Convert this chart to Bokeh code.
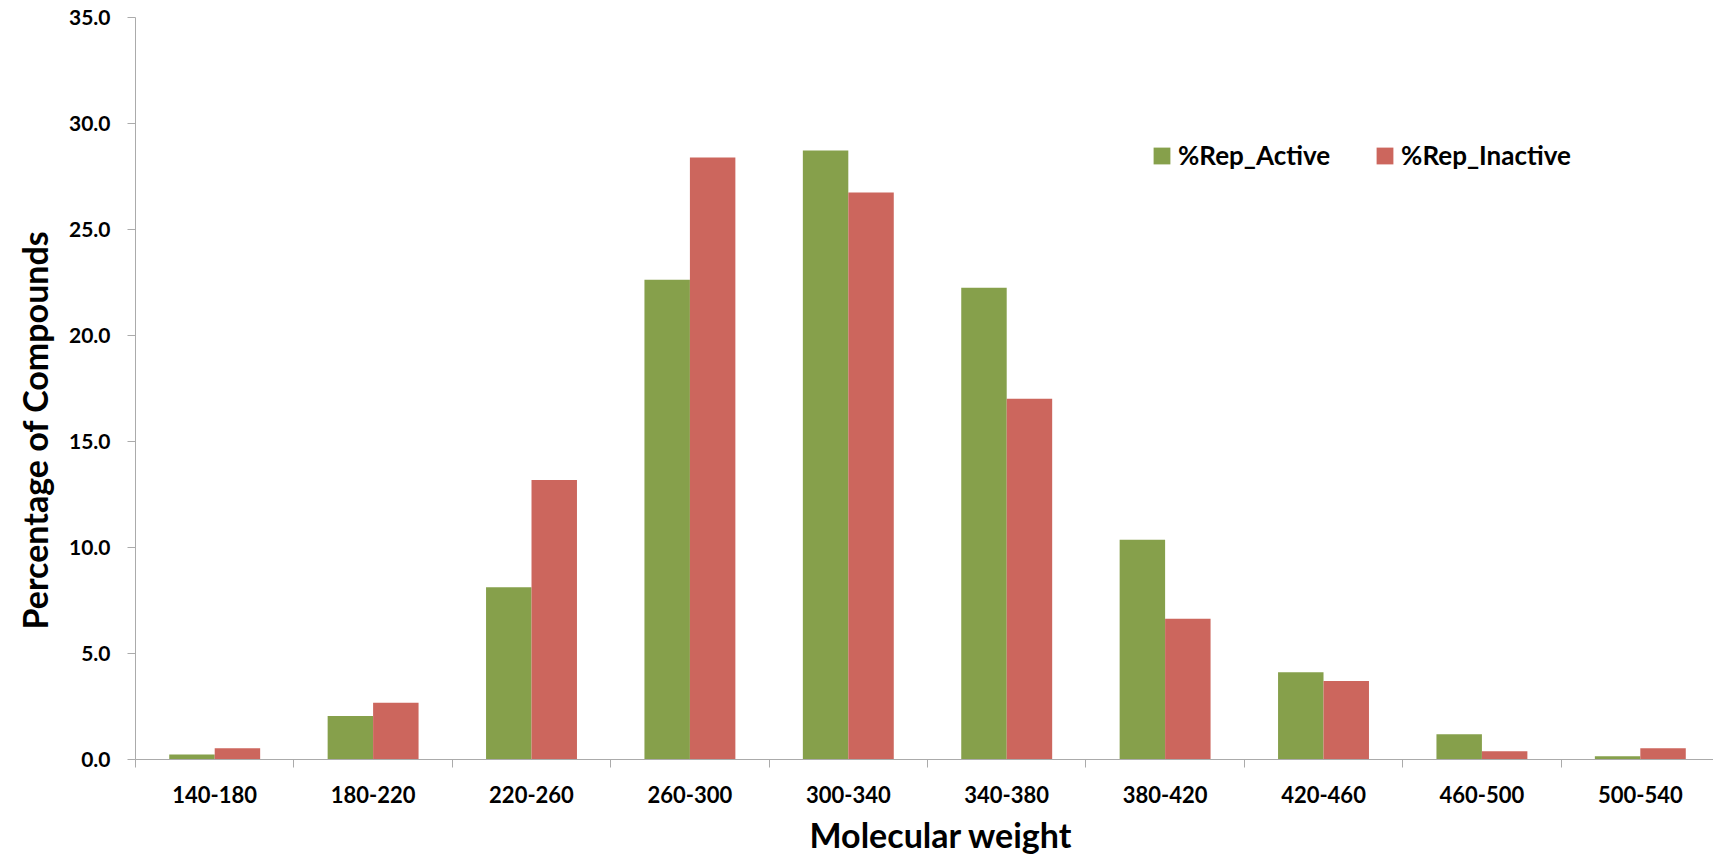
from bokeh.plotting import figure
from bokeh.models import (ColumnDataSource, Range1d, FixedTicker, NumeralTickFormatter,
                          Legend, LegendItem, Title)
from bokeh.embed import file_html
from bokeh.resources import INLINE
import numpy as np

categories = ["140-180", "180-220", "220-260", "260-300", "300-340",
              "340-380", "380-420", "420-460", "460-500", "500-540"]
rep_active = [0.23, 2.05, 8.12, 22.63, 28.73, 22.25, 10.37, 4.11, 1.19, 0.15]
rep_inactive = [0.53, 2.68, 13.18, 28.40, 26.75, 17.02, 6.64, 3.70, 0.39, 0.53]
y_ticks = [0, 5, 10, 15, 20, 25, 30, 35]

GREEN = "#86A04B"
RED = "#CC665D"
FONT = "Lato"

idx = np.arange(len(categories))
bw = 0.287
src = ColumnDataSource(dict(
    xa=idx + 0.5 - bw / 2, xi=idx + 0.5 + bw / 2,
    active=rep_active, inactive=rep_inactive, cat=categories))

p = figure(width=1713, height=866, output_backend="svg", toolbar_location=None,
           x_range=Range1d(0, 9.962), y_range=Range1d(0, 35),
           min_border_left=135, min_border_right=0, min_border_top=17,
           min_border_bottom=107)
p.outline_line_color = None
p.xgrid.visible = False
p.ygrid.visible = False

ra = p.vbar(x="xa", top="active", width=bw, source=src, fill_color=GREEN,
            line_color=None)
ri = p.vbar(x="xi", top="inactive", width=bw, source=src, fill_color=RED,
            line_color=None)

AX = "#ababab"
# y axis
ya = p.yaxis[0]
ya.ticker = FixedTicker(ticks=y_ticks)
ya.formatter = NumeralTickFormatter(format="0.0")
ya.axis_line_color = AX
ya.major_tick_line_color = AX
ya.major_tick_out = 8
ya.major_tick_in = 0
ya.minor_tick_line_color = None
ya.major_label_text_font = FONT
ya.major_label_text_font_style = "bold"
ya.major_label_text_font_size = "21px"
ya.major_label_text_color = "black"
ya.major_label_standoff = 17

# x axis
xa = p.xaxis[0]
xa.ticker = FixedTicker(ticks=list(idx + 0.5), minor_ticks=list(range(len(categories) + 1)))
xa.major_label_overrides = {float(i + 0.5): c for i, c in enumerate(categories)}
xa.axis_line_color = AX
xa.major_tick_line_color = None
xa.major_tick_out = 0
xa.major_tick_in = 0
xa.minor_tick_line_color = AX
xa.minor_tick_out = 8
xa.minor_tick_in = 0
xa.major_label_text_font = FONT
xa.major_label_text_font_style = "bold"
xa.major_label_text_font_size = "22px"
xa.major_label_text_color = "black"
xa.major_label_standoff = 18

xt = Title(text="Molecular weight", align="left", offset=674, vertical_align="top",
           standoff=16, text_font=FONT, text_font_style="bold", text_font_size="34px",
           text_color="black")
p.add_layout(xt, "below")
yt = Title(text="Percentage of Compounds", align="left", offset=130, vertical_align="top",
           standoff=17, text_font=FONT, text_font_style="bold", text_font_size="34px",
           text_color="black")
p.add_layout(yt, "left")

legend = Legend(items=[LegendItem(label="%Rep_Active", renderers=[ra]),
                       LegendItem(label="%Rep_Inactive", renderers=[ri])],
                orientation="horizontal", location=(1016, 588),
                padding=0, margin=0, spacing=44,
                glyph_width=21, glyph_height=21, label_standoff=6,
                label_text_font=FONT, label_text_font_style="bold",
                label_text_font_size="26px", label_text_color="black",
                border_line_color=None, background_fill_alpha=0)
p.add_layout(legend, "center")

open("out.html", "w").write(file_html(p, INLINE))
